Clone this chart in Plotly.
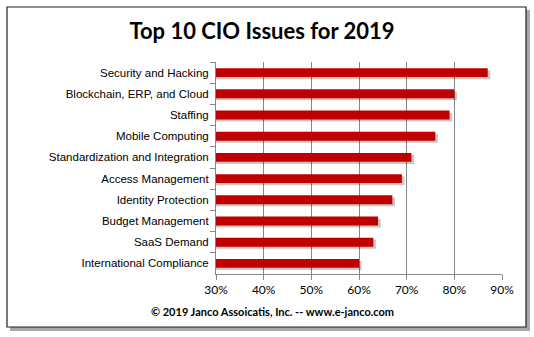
import plotly.graph_objects as go

categories = [
    "Security and Hacking",
    "Blockchain, ERP, and Cloud",
    "Staffing",
    "Mobile Computing",
    "Standardization and Integration",
    "Access Management",
    "Identity Protection",
    "Budget Management",
    "SaaS Demand",
    "International Compliance",
]
values = [87, 80, 79, 76, 71, 69, 67, 64, 63, 60]
tick_vals = [30, 40, 50, 60, 70, 80, 90]
tick_text = ["30%", "40%", "50%", "60%", "70%", "80%", "90%"]

W, H = 534, 337
L, R, T, B = 216, 32, 62, 63
pw, ph = W - L - R, H - T - B

def px_x(p):
    return (p - L) / pw

def px_y(p):
    return (H - B - p) / ph

bar_w = 0.42
shadow_dx = 0.55   # in axis units (~2.5px)
shadow_dy = 0.1    # in category units (~2px)

fig = go.Figure()
# soft shadow behind bars
fig.add_trace(go.Bar(
    y=categories, x=[v + shadow_dx for v in values], orientation="h", base=0,
    marker=dict(color="rgba(0,0,0,0.22)", line=dict(width=0)),
    width=bar_w, offset=-bar_w / 2 + shadow_dy, hoverinfo="skip",
))
fig.add_trace(go.Bar(
    y=categories, x=values, orientation="h", base=0,
    marker=dict(color="#C00000", line=dict(width=0)),
    width=bar_w, offset=-bar_w / 2,
))

fig.update_layout(
    width=W, height=H,
    margin=dict(l=L, r=R, t=T, b=B, pad=0),
    paper_bgcolor="white", plot_bgcolor="white",
    showlegend=False, barmode="overlay",
    font=dict(family="Liberation Sans, Arial", color="black"),
    xaxis=dict(
        range=[30, 90], tickvals=tick_vals, ticktext=tick_text,
        showgrid=True, gridcolor="#868686", gridwidth=1,
        showline=True, linecolor="#868686", linewidth=1,
        ticks="outside", ticklen=5, tickcolor="#868686",
        tickfont=dict(family="Lato, Carlito, Calibri", size=12, color="black"),
        zeroline=False, fixedrange=True,
    ),
    yaxis=dict(
        autorange="reversed",
        showline=True, linecolor="#868686", linewidth=1,
        ticks="outside", ticklen=5, tickcolor="#868686",
        tickson="boundaries",
        tickfont=dict(family="Liberation Sans, Arial", size=11.5, color="black"),
        ticklabelstandoff=4,
        fixedrange=True,
    ),
    title=dict(
        text="<b>Top 10 CIO Issues for 2019</b>",
        font=dict(family="Lato, Carlito, Calibri", size=22, color="black"),
        x=262 / W, xanchor="center", y=1 - 31 / H, yanchor="middle",
    ),
)

# chart border with shadow
fig.add_shape(type="rect", xref="paper", yref="paper", layer="below",
              x0=px_x(10), x1=px_x(530), y0=px_y(331), y1=px_y(10),
              line=dict(width=0), fillcolor="#a8a8a8")
fig.add_shape(type="rect", xref="paper", yref="paper", layer="below",
              x0=px_x(7), x1=px_x(526), y0=px_y(327), y1=px_y(7),
              line=dict(width=1.2, color="#202020"), fillcolor="white")

fig.add_annotation(
    text="<b>© 2019 Janco Assoicatis, Inc. -- www.e-janco.com</b>",
    xref="paper", yref="paper", x=px_x(272), y=px_y(311),
    xanchor="center", yanchor="middle", showarrow=False,
    font=dict(family="Lato, Carlito, Calibri", size=11, color="black"),
)

fig.write_html("out.html")
